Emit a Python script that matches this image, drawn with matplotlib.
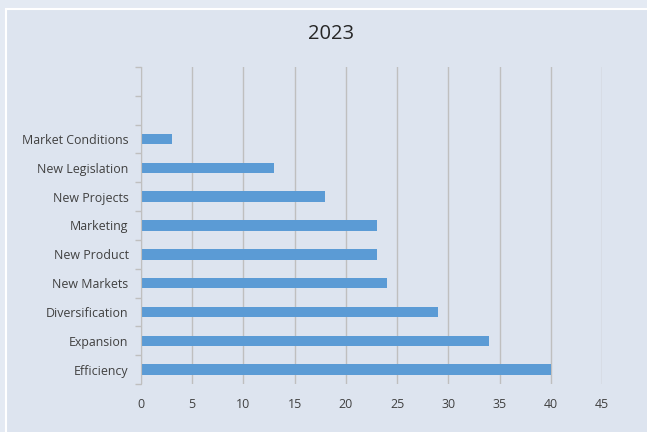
import matplotlib
matplotlib.use("Agg")
import matplotlib.pyplot as plt
from matplotlib.patches import Rectangle

plt.rcParams['font.family'] = ['Open Sans', 'DejaVu Sans']

# values for 2023, bottom to top; two blank slots sit above the last bar
categories = ["Efficiency", "Expansion", "Diversification", "New Markets",
              "New Product", "Marketing", "New Projects", "New Legislation",
              "Market Conditions"]
values = [40, 34, 29, 24, 23, 23, 18, 13, 3]
blank_slots = 2
title = "2023"

fig = plt.figure(figsize=(6.47, 4.32), dpi=100)
fig.patch.set_facecolor("#e4eaf3")
# inner panel with a white edge
fig.patches.append(Rectangle((6 / 647, -0.01), 1.0, 1 - 9 / 432 + 0.01,
                             transform=fig.transFigure, facecolor="#dde4ef",
                             edgecolor="white", linewidth=1.5, zorder=-5))

ax = fig.add_axes([141 / 647, 1 - 384 / 432, 461 / 647, 317 / 432])
ax.set_facecolor("none")

n = len(categories) + blank_slots
ypos = list(range(len(categories)))
ax.barh(ypos, values, height=0.36, color="#5b9bd5", zorder=3)

ax.set_xlim(0, 45)
ax.set_ylim(-0.5, n - 0.5)
ax.set_xticks(range(0, 50, 5))
ax.set_yticks(ypos)
ax.set_yticklabels(categories)
# tick marks on the category boundaries
ax.set_yticks([i - 0.5 for i in range(n + 1)], minor=True)
ax.tick_params(axis="y", which="major", length=0, pad=9, labelsize=8.9,
               labelcolor="#404040")
ax.tick_params(axis="y", which="minor", length=4, color="#bfbfbf", width=1)
ax.tick_params(axis="x", length=0, pad=10, labelsize=8.9, labelcolor="#404040")

ax.grid(axis="x", color="#bfbfbf", linewidth=1, zorder=0)
for side in ["top", "right", "bottom"]:
    ax.spines[side].set_visible(False)
ax.spines["left"].set_color("#bfbfbf")
ax.spines["left"].set_zorder(4)

fig.text(331 / 647, 1 - 34 / 432, title, ha="center", va="center",
         fontsize=14.5, color="#262626")

fig.savefig("out.png", dpi=100, facecolor=fig.get_facecolor())
